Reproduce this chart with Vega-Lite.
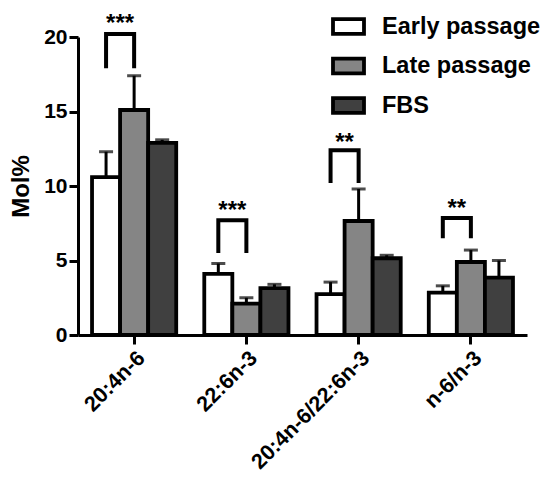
{
  "$schema": "https://vega.github.io/schema/vega-lite/v6.json",
  "autosize": {"type": "none"},
  "padding": {"left": 78, "top": 37, "right": 23, "bottom": 143},
  "width": 449,
  "height": 298,
  "config": {
    "view": {"stroke": null},
    "font": "Liberation Sans",
    "axis": {"grid": false, "domainColor": "black", "domainWidth": 3, "tickColor": "black", "tickWidth": 3, "labelColor": "black", "titleColor": "black", "labelFontWeight": "bold", "titleFontWeight": "bold"}
  },
  "datasets": {
    "bars": [
      {"cat": "20:4n-6", "group": "Early passage", "mean": 10.6, "top": 12.3},
      {"cat": "20:4n-6", "group": "Late passage", "mean": 15.1, "top": 17.4},
      {"cat": "20:4n-6", "group": "FBS", "mean": 12.9, "top": 13.1},
      {"cat": "22:6n-3", "group": "Early passage", "mean": 4.1, "top": 4.8},
      {"cat": "22:6n-3", "group": "Late passage", "mean": 2.1, "top": 2.5},
      {"cat": "22:6n-3", "group": "FBS", "mean": 3.15, "top": 3.4},
      {"cat": "20:4n-6/22:6n-3", "group": "Early passage", "mean": 2.75, "top": 3.55},
      {"cat": "20:4n-6/22:6n-3", "group": "Late passage", "mean": 7.65, "top": 9.8},
      {"cat": "20:4n-6/22:6n-3", "group": "FBS", "mean": 5.15, "top": 5.35},
      {"cat": "n-6/n-3", "group": "Early passage", "mean": 2.85, "top": 3.3},
      {"cat": "n-6/n-3", "group": "Late passage", "mean": 4.9, "top": 5.7},
      {"cat": "n-6/n-3", "group": "FBS", "mean": 3.85, "top": 5.0}
    ],
    "brackets": [
      {"cat": "20:4n-6", "group": "Early passage", "y": 17.9, "o": 0},
      {"cat": "20:4n-6", "group": "Early passage", "y": 20.2, "o": 1},
      {"cat": "20:4n-6", "group": "Late passage", "y": 20.2, "o": 2},
      {"cat": "20:4n-6", "group": "Late passage", "y": 17.9, "o": 3},
      {"cat": "22:6n-3", "group": "Early passage", "y": 5.5, "o": 0},
      {"cat": "22:6n-3", "group": "Early passage", "y": 7.7, "o": 1},
      {"cat": "22:6n-3", "group": "Late passage", "y": 7.7, "o": 2},
      {"cat": "22:6n-3", "group": "Late passage", "y": 5.5, "o": 3},
      {"cat": "20:4n-6/22:6n-3", "group": "Early passage", "y": 10.2, "o": 0},
      {"cat": "20:4n-6/22:6n-3", "group": "Early passage", "y": 12.4, "o": 1},
      {"cat": "20:4n-6/22:6n-3", "group": "Late passage", "y": 12.4, "o": 2},
      {"cat": "20:4n-6/22:6n-3", "group": "Late passage", "y": 10.2, "o": 3},
      {"cat": "n-6/n-3", "group": "Early passage", "y": 6.5, "o": 0},
      {"cat": "n-6/n-3", "group": "Early passage", "y": 7.85, "o": 1},
      {"cat": "n-6/n-3", "group": "Late passage", "y": 7.85, "o": 2},
      {"cat": "n-6/n-3", "group": "Late passage", "y": 6.5, "o": 3}
    ],
    "stars": [
      {"cat": "20:4n-6", "y": 20.85, "label": "***"},
      {"cat": "22:6n-3", "y": 8.35, "label": "***"},
      {"cat": "20:4n-6/22:6n-3", "y": 12.9, "label": "**"},
      {"cat": "n-6/n-3", "y": 8.45, "label": "**"}
    ]
  },
  "encoding": {
    "x": {"field": "cat", "type": "nominal", "sort": ["20:4n-6", "22:6n-3", "20:4n-6/22:6n-3", "n-6/n-3"],
      "scale": {"paddingInner": 0.25, "paddingOuter": 0.125},
      "axis": {"title": null, "labelAngle": -45, "labelFontSize": 21.5, "tickSize": 9, "labelPadding": 3}},
    "xOffset": {"field": "group", "type": "nominal", "scale": {"domain": ["Early passage", "Late passage", "FBS"], "paddingInner": 0, "paddingOuter": 0}}
  },
  "layer": [
    {
      "data": {"name": "bars"},
      "mark": {"type": "bar", "stroke": "black", "strokeWidth": 3.8, "strokeJoin": "miter"},
      "encoding": {
        "y": {"field": "mean", "type": "quantitative", "scale": {"domain": [0, 20], "nice": false},
          "axis": {"title": "Mol%", "titleFontSize": 24, "labelFontSize": 21, "values": [0, 5, 10, 15, 20], "tickSize": 9, "labelPadding": 2, "titlePadding": 10}},
        "fill": {"field": "group", "type": "nominal",
          "scale": {"domain": ["Early passage", "Late passage", "FBS"], "range": ["#ffffff", "#858585", "#404040"]},
          "legend": {"title": null, "orient": "none", "legendX": 253, "legendY": -28, "padding": 0,
            "symbolType": "M-1,-0.48H1V0.48H-1Z", "symbolSize": 961, "symbolStrokeColor": "black", "symbolStrokeWidth": 3.8,
            "labelFontSize": 23.5, "labelFontWeight": "bold", "labelColor": "black", "labelOffset": 16, "rowPadding": 6.5}}
      }
    },
    {
      "data": {"name": "bars"},
      "mark": {"type": "rule", "color": "black", "strokeWidth": 3},
      "encoding": {"y": {"field": "mean", "type": "quantitative"}, "y2": {"field": "top"}}
    },
    {
      "data": {"name": "bars"},
      "mark": {"type": "tick", "color": "black", "thickness": 3, "size": 14},
      "encoding": {"y": {"field": "top", "type": "quantitative"}}
    },
    {
      "data": {"name": "brackets"},
      "mark": {"type": "line", "color": "black", "strokeWidth": 4, "strokeJoin": "miter", "strokeCap": "butt"},
      "encoding": {"y": {"field": "y", "type": "quantitative"}, "detail": {"field": "cat"}, "order": {"field": "o"}}
    },
    {
      "data": {"name": "stars"},
      "mark": {"type": "text", "fontSize": 24, "fontWeight": "bold", "dx": -14, "baseline": "middle", "color": "black"},
      "encoding": {"xOffset": null, "y": {"field": "y", "type": "quantitative"}, "text": {"field": "label"}}
    }
  ]
}
